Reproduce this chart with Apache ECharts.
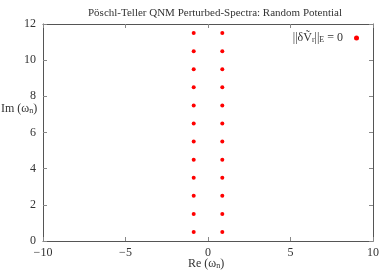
<!DOCTYPE html>
<html><head><meta charset="utf-8">
<script src="https://cdn.jsdelivr.net/npm/echarts@6/dist/echarts.min.js"></script>
<style>html,body{margin:0;padding:0;background:#fff}#c{width:382px;height:272px}</style>
</head><body><div id="c"></div>
<script>
var reValues = [-0.866, 0.866];
var imValues = [0.5, 1.5, 2.5, 3.5, 4.5, 5.5, 6.5, 7.5, 8.5, 9.5, 10.5, 11.5];
var xTicks = [-10, -5, 0, 5, 10];
var yTicks = [0, 2, 4, 6, 8, 10, 12];
var seriesName = 'unperturbed';

var pts = [];
reValues.forEach(function (r) { imValues.forEach(function (i) { pts.push([r, i]); }); });

var F = '"Liberation Serif", "DejaVu Serif", serif';
var txt = '#333';
var chart = echarts.init(document.getElementById('c'), null, {renderer: 'canvas'});
var axisCommon = {
  axisLine: {show: true, onZero: false, lineStyle: {color: '#555', width: 1}},
  axisTick: {show: true, inside: true, length: 4, lineStyle: {color: '#888'}},
  splitLine: {show: false}
};
chart.setOption({
  animation: false,
  title: {text: 'Pöschl-Teller QNM Perturbed-Spectra: Random Potential', left: 210, textAlign: 'center', top: 3,
    textStyle: {fontFamily: F, fontSize: 11, fontWeight: 'normal', color: txt}},
  grid: {left: 43, right: 5, top: 24, bottom: 31},
  xAxis: [
    Object.assign({type: 'value', min: xTicks[0], max: xTicks[xTicks.length - 1], interval: 5, position: 'bottom',
      axisLabel: {fontFamily: F, fontSize: 12, color: txt, margin: 6, formatter: function (v) { return v < 0 ? '\u2212' + Math.abs(v) : '' + v; }}}, axisCommon),
    Object.assign({type: 'value', min: xTicks[0], max: xTicks[xTicks.length - 1], interval: 5, position: 'top', axisLabel: {show: false}}, axisCommon)
  ],
  yAxis: [
    Object.assign({type: 'value', min: yTicks[0], max: yTicks[yTicks.length - 1], interval: 2, position: 'left',
      axisLabel: {fontFamily: F, fontSize: 12, color: txt, margin: 7}}, axisCommon),
    Object.assign({type: 'value', min: yTicks[0], max: yTicks[yTicks.length - 1], interval: 2, position: 'right', axisLabel: {show: false}}, axisCommon)
  ],
  legend: {
    data: [seriesName], right: 18, top: 27, align: 'right', itemWidth: 5, itemHeight: 5, itemGap: 0,
    icon: 'circle',
    formatter: function () { return '{n|||\u03b4\u1e7c}{s|r}{n|||}{s|E}{n| = 0  }'; },
    textStyle: {fontFamily: F, color: txt, rich: {
      n: {fontFamily: F, fontSize: 12, color: txt},
      s: {fontFamily: F, fontSize: 8, color: txt, verticalAlign: 'bottom', padding: [4, 0, 0, 0]}
    }}
  },
  graphic: [
    {type: 'text', left: 1, top: 103, style: {text: '{n|Im (\u03c9}{s|n}{n|)}', rich: {
      n: {fontFamily: F, fontSize: 12, fill: txt},
      s: {fontFamily: F, fontSize: 8, fill: txt, padding: [4, 0, 0, 0]}
    }}},
    {type: 'text', left: 188, top: 258, style: {text: '{n|Re (\u03c9}{s|n}{n|)}', rich: {
      n: {fontFamily: F, fontSize: 12, fill: txt},
      s: {fontFamily: F, fontSize: 8, fill: txt, padding: [4, 0, 0, 0]}
    }}}
  ],
  series: [{
    name: seriesName, type: 'scatter', data: pts, symbolSize: 4,
    itemStyle: {color: '#ff0000', opacity: 1}, xAxisIndex: 0, yAxisIndex: 0
  }]
});
</script></body></html>
